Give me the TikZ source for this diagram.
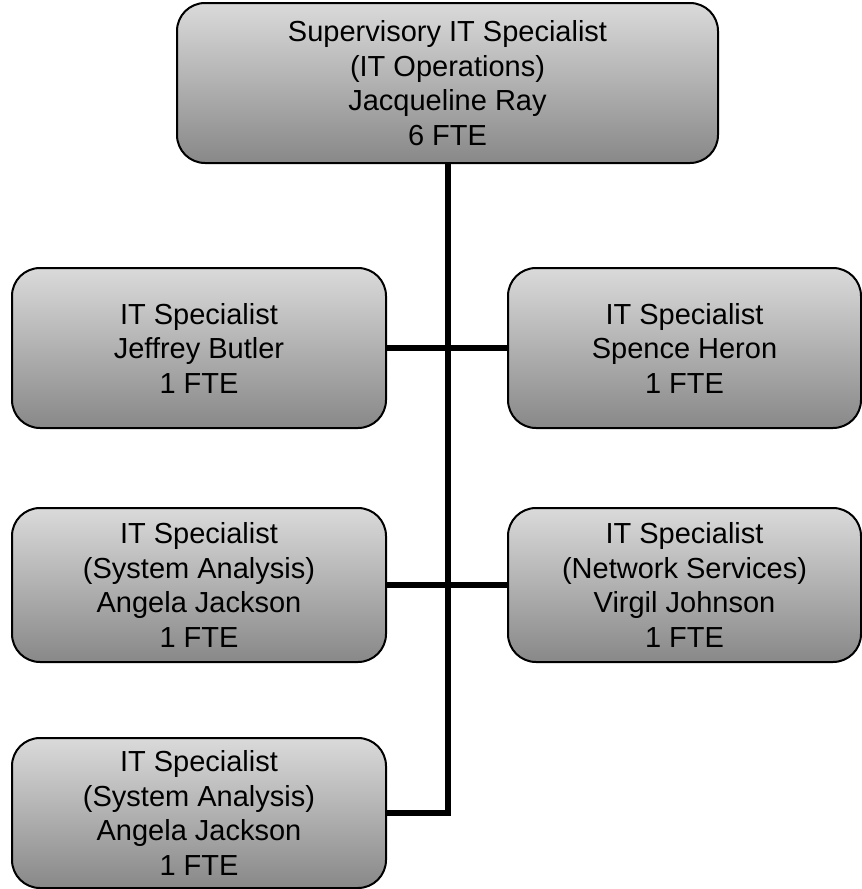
\documentclass[tikz,border=0pt]{standalone}
\usepackage{fontspec}
\setmainfont{Liberation Sans}
\begin{document}
\definecolor{boxtop}{RGB}{218,218,218}
\definecolor{boxbottom}{RGB}{136,136,136}
\begin{tikzpicture}[x=1pt,y=-1pt,
  post/.style={draw=black, line width=2pt, rounded corners=28pt,
    top color=boxtop, bottom color=boxbottom,
    minimum height=160pt, inner sep=0pt, align=center,
    font=\fontsize{29}{34.5}\selectfont},
  leftpost/.style={post, minimum width=374pt},
  rightpost/.style={post, minimum width=353pt},
  link/.style={line width=5.5pt, line join=miter}]
\useasboundingbox (0,0) rectangle (862,889);

% head of the section
\node[post, minimum width=541pt] (head) at (447.5,83)
  {Supervisory IT Specialist\\(IT Operations)\\Jacqueline Ray\\6 FTE};

% staff positions
\node[leftpost] (l1) at (199,348) {IT Specialist\\Jeffrey Butler\\1 FTE};
\node[rightpost] (r1) at (684.5,348) {IT Specialist\\Spence Heron\\1 FTE};
\node[leftpost, minimum height=154pt] (l2) at (199,585)
  {IT Specialist\\(System Analysis)\\Angela Jackson\\1 FTE};
\node[rightpost, minimum height=154pt] (r2) at (684.5,585)
  {IT Specialist\\(Network Services)\\Virgil Johnson\\1 FTE};
\node[leftpost, minimum height=150pt] (l3) at (199,813)
  {IT Specialist\\(System Analysis)\\Angela Jackson\\1 FTE};

% reporting lines
\coordinate (trunk) at (448,163);
\draw[link] (head.south -| trunk) -- (trunk |- l3.east) -- (l3.east);
\draw[link] (l1.east) -- (r1.west);
\draw[link] (l2.east) -- (r2.west);
\end{tikzpicture}
\end{document}
